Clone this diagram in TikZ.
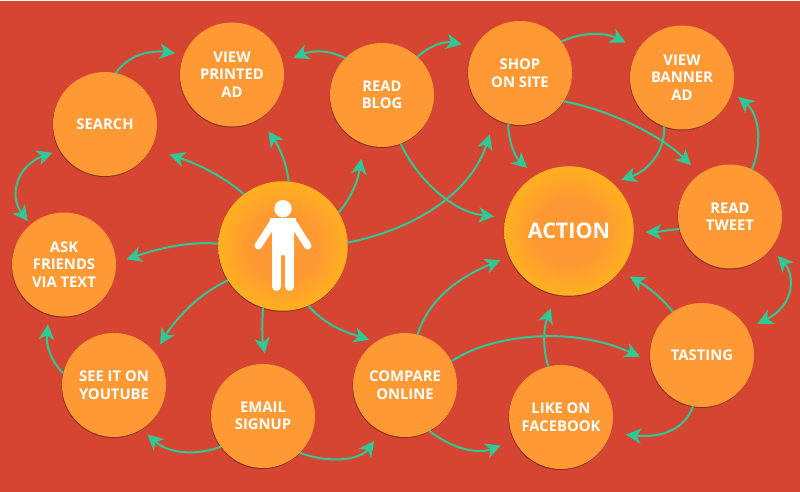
\documentclass[tikz,border=0pt]{standalone}
\usepackage{fontspec}
\setmainfont{Open Sans}
\usetikzlibrary{arrows.meta,shadows,shapes.geometric}
\definecolor{bgred}{HTML}{D64532}
\definecolor{discorange}{HTML}{FF9933}
\definecolor{glowyellow}{HTML}{FFB020}
\definecolor{linkgreen}{HTML}{2DC997}
\definecolor{rimdark}{HTML}{84301F}
\pgfdeclareradialshading{glowdisc}{\pgfpointorigin}{color(0bp)=(discorange); color(13bp)=(discorange); color(25bp)=(glowyellow); color(50bp)=(glowyellow)}
\tikzset{
  disc/.style={circle,draw=none,minimum size=104pt,inner sep=0pt,outer sep=0pt,align=center,
    text=white,font=\fontsize{14.8}{17.5}\selectfont\bfseries,
    execute at begin node={\rule{0pt}{12pt}},
    general shadow={fill=rimdark,shadow xshift=-0.5pt,shadow yshift=-1pt}},
  plain disc/.style={disc,fill=discorange},
  big disc/.style={disc,minimum size=129.5pt,shade,shading=glowdisc,
    font=\fontsize{21.5}{25}\selectfont\bfseries},
  linkhead/.tip={Stealth[length=15.5pt,width=15.5pt,inset=4.5pt]},
  link/.style={draw=linkgreen,line width=2pt,-linkhead},
  twoway/.style={draw=linkgreen,line width=2pt,linkhead-linkhead}
}
\begin{document}
\begin{tikzpicture}[x=1pt,y=-1pt]
\useasboundingbox (0,0) rectangle (800,492);
\fill[bgred] (0,0.8) rectangle (800,492);
% nodes
\node[plain disc] (search) at (105,124) {SEARCH};
\node[plain disc] (printed) at (232,74.5) {VIEW\\PRINTED\\AD};
\node[plain disc] (blog) at (382,95) {READ\\BLOG};
\node[plain disc] (shop) at (520,73) {SHOP\\ON SITE};
\node[plain disc] (banner) at (682,77.5) {VIEW\\BANNER\\AD};
\node[plain disc] (tweet) at (730,216.5) {READ\\TWEET};
\node[big disc] (action) at (569,231) {ACTION};
\node[big disc] (person) at (283,246) {};
\node[plain disc] (ask) at (64,264.5) {ASK\\FRIENDS\\VIA TEXT};
\node[plain disc] (youtube) at (114,385) {SEE IT ON\\YOUTUBE};
\node[plain disc] (email) at (263,416) {EMAIL\\SIGNUP};
\node[plain disc] (compare) at (405,385) {COMPARE\\ONLINE};
\node[plain disc] (like) at (561,417) {LIKE ON\\FACEBOOK};
\node[plain disc] (tasting) at (702,355) {TASTING};
% person icon
\fill[white] (283,208.7) circle (8.7);
\draw[white,line width=7.5pt,line cap=round] (273.5,222) -- (258.3,245.7);
\draw[white,line width=7.5pt,line cap=round] (292.5,222) -- (307.7,245.7);
\fill[white] (270,218) -- (296,218) -- (294,235) -- (294,255.3) -- (272,255.3) -- (272,235) -- cycle;
\draw[white,line width=8.6pt,line cap=round] (276.3,250) -- (276.3,286.7);
\draw[white,line width=8.6pt,line cap=round] (289.7,250) -- (289.7,286.7);
% connectors
\draw[link,shorten >=9pt] (search.78) .. controls (128,55) and (150,50) .. (printed.157);
\draw[twoway,shorten <=8pt,shorten >=4.5pt] (search.210) .. controls (18,165) and (8,195) .. (ask.130);
\draw[link,shorten >=19.6pt] (person.127) .. controls (222,175) and (195,163) .. (search.-28);
\draw[link,shorten >=15.4pt] (person.85) .. controls (287,165) and (280,148) .. (printed.-58);
\draw[link,shorten >=15.4pt] (person.31) .. controls (352,197) and (358,180) .. (blog.249);
\draw[link,shorten >=16.5pt] (person.3) .. controls (420,228) and (472,190) .. (shop.241);
\draw[link,shorten >=11pt] (person.178) .. controls (190,241) and (160,248) .. (ask.2);
\draw[link,shorten >=10pt] (person.212) .. controls (200,293) and (176,318) .. (youtube.38);
\draw[link,shorten >=11pt] (person.252) .. controls (262,322) and (262,338) .. (email.86);
\draw[link,shorten >=7pt] (person.293) .. controls (325,325) and (345,332) .. (compare.124);
\draw[link,shorten >=11.8pt] (blog.135) .. controls (330,50) and (312,50) .. (printed.13.6);
\draw[link,shorten >=13.4pt] (blog.47) .. controls (430,45) and (445,41) .. (shop.150.7);
\draw[link,shorten >=11.5pt] (blog.291) .. controls (415,175) and (450,212) .. (action.168.7);
\draw[link,shorten >=11.3pt] (shop.257) .. controls (508,140) and (515,157) .. (action.121.6);
\draw[link,shorten >=14.3pt] (shop.37) .. controls (580,32) and (605,32) .. (banner.147.6);
\draw[link,shorten >=12.6pt] (shop.327) .. controls (610,110) and (660,135) .. (tweet.125);
\draw[link,shorten >=9.4pt] (banner.250) .. controls (665,150) and (650,170) .. (action.48.8);
\draw[link,shorten >=8.3pt] (tweet.65) .. controls (762,145) and (760,115) .. (banner.-16);
\draw[link,shorten >=12pt] (tweet.194) .. controls (668,230) and (658,232) .. (action.-1.5);
\draw[link,shorten >=11.2pt] (tasting.124) .. controls (662,298) and (648,287) .. (action.-38);
\draw[twoway,shorten <=11.6pt,shorten >=10pt] (tasting.30) .. controls (795,305) and (795,275) .. (tweet.-38);
\draw[link,shorten >=15.4pt] (tasting.260) .. controls (685,430) and (660,438) .. (like.-18);
\draw[link,shorten >=14.8pt] (like.104) .. controls (543,350) and (543,330) .. (action.258);
\draw[link,shorten >=11.5pt] (compare.27) .. controls (490,335) and (570,325) .. (tasting.187);
\draw[link,shorten >=9.8pt] (compare.76) .. controls (430,295) and (465,275) .. (action.203);
\draw[link,shorten >=14.6pt] (compare.298) .. controls (450,447) and (475,455) .. (like.207.7);
\draw[link,shorten >=12pt] (email.315) .. controls (330,464) and (360,460) .. (compare.243);
\draw[link,shorten >=8pt] (email.216) .. controls (200,455) and (170,455) .. (youtube.302);
\draw[link,shorten >=10pt] (youtube.167) .. controls (50,360) and (46,345) .. (ask.253);
\end{tikzpicture}
\end{document}
